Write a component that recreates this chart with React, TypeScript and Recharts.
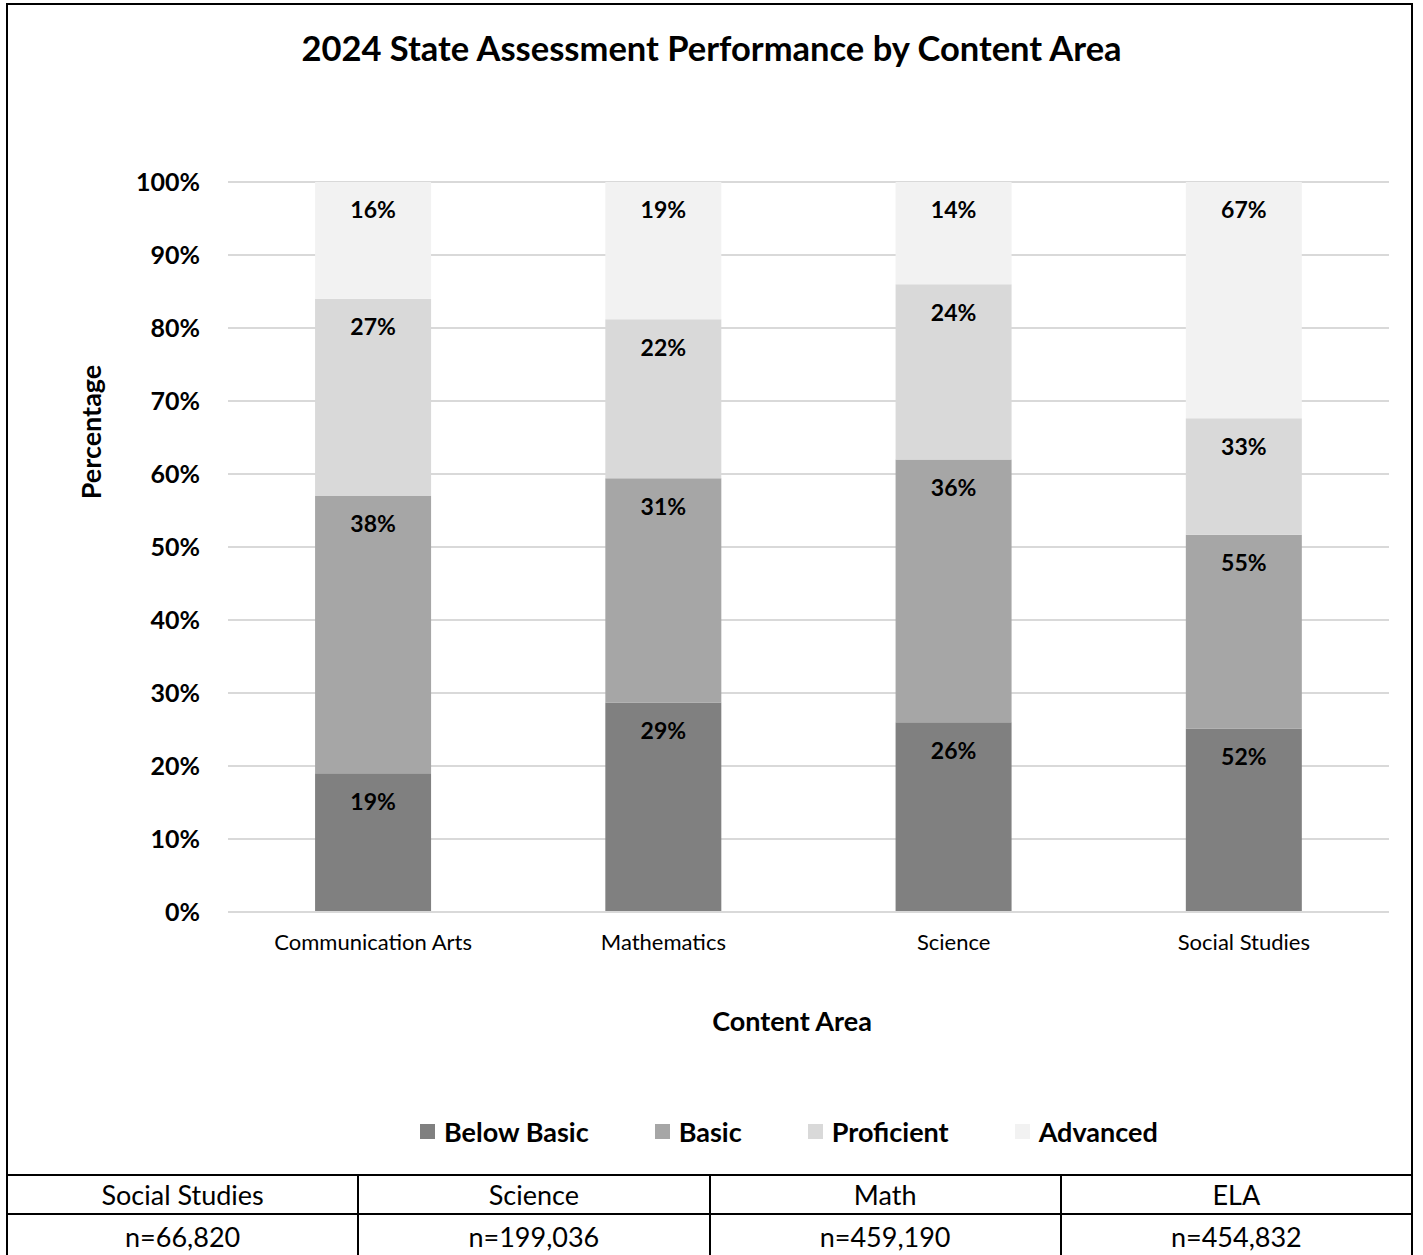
import React from 'react';
import { BarChart, Bar, XAxis, YAxis, CartesianGrid, Legend, LabelList, Label } from 'recharts';

const categories = ['Communication Arts', 'Mathematics', 'Science', 'Social Studies'];
const belowBasic = [19, 29, 26, 52];
const basic = [38, 31, 36, 55];
const proficient = [27, 22, 24, 33];
const advanced = [16, 19, 14, 67];
const yTicks = [0, 0.1, 0.2, 0.3, 0.4, 0.5, 0.6, 0.7, 0.8, 0.9, 1];

const tableHeaders = ['Social Studies', 'Science', 'Math', 'ELA'];
const tableCounts = ['n=66,820', 'n=199,036', 'n=459,190', 'n=454,832'];

const series = [
  { key: 'belowBasic', name: 'Below Basic', color: '#808080' },
  { key: 'basic', name: 'Basic', color: '#a6a6a6' },
  { key: 'proficient', name: 'Proficient', color: '#d9d9d9' },
  { key: 'advanced', name: 'Advanced', color: '#f2f2f2' },
];

const data = categories.map((category, i) => ({
  category,
  belowBasic: belowBasic[i],
  basic: basic[i],
  proficient: proficient[i],
  advanced: advanced[i],
}));

const FONT = 'Lato, "Open Sans", sans-serif';

const renderLegend = () => (
  <div style={{ display: 'flex', paddingLeft: 420, gap: 66, fontFamily: FONT, fontWeight: 700, fontSize: 27, color: '#000' }}>
    {series.map((s) => (
      <div key={s.key} style={{ display: 'flex', alignItems: 'center' }}>
        <span style={{ display: 'inline-block', width: 15, height: 15, background: s.color, marginRight: 9 }} />
        {s.name}
      </div>
    ))}
  </div>
);

const cell: React.CSSProperties = {
  border: '2px solid #000',
  height: 37,
  padding: 0,
  textAlign: 'center',
  fontSize: 27,
  fontFamily: FONT,
  color: '#000',
};

export default function App() {
  return (
    <div style={{ position: 'relative', width: 1423, height: 1255, background: '#fff', overflow: 'hidden', fontFamily: FONT }}>
      <style>{'body{margin:0}'}</style>
      <div
        style={{
          position: 'absolute', left: 6, top: 3, width: 1407, height: 1173,
          border: '2px solid #000', boxSizing: 'border-box',
        }}
      />
      <div
        style={{
          position: 'absolute', left: 0, top: 28, width: 1423, textAlign: 'center',
          fontSize: 34.5, fontWeight: 700, color: '#000', lineHeight: '40px',
        }}
      >
        2024 State Assessment Performance by Content Area
      </div>
      <div style={{ position: 'absolute', left: 0, top: 0 }}>
        <BarChart
          width={1423}
          height={1175}
          data={data}
          stackOffset="expand"
          barCategoryGap="30%"
          margin={{ top: 182, right: 34, left: 128, bottom: 233 }}
        >
          <CartesianGrid vertical={false} stroke="#d9d9d9" strokeWidth={2} />
          <XAxis
            dataKey="category"
            axisLine={{ stroke: '#d9d9d9', strokeWidth: 2 }}
            tickLine={false}
            tickMargin={16}
            height={30}
            tick={{ fill: '#000', fontSize: 22, fontFamily: FONT }}
          >
            <Label
              content={() => (
                <text x={792} y={1031} textAnchor="middle" fontFamily={FONT} fontWeight={700} fontSize={27} fill="#000">
                  Content Area
                </text>
              )}
            />
          </XAxis>
          <YAxis
            width={100}
            domain={[0, 1]}
            ticks={yTicks}
            tickFormatter={(v: number) => `${Math.round(v * 100)}%`}
            axisLine={false}
            tickLine={false}
            tickMargin={22}
            tick={{ fill: '#000', fontSize: 25, fontWeight: 700, fontFamily: FONT }}
          >
            <Label
              content={() => (
                <text
                  x={101}
                  y={432}
                  transform="rotate(-90 101 432)"
                  textAnchor="middle"
                  fontFamily={FONT}
                  fontWeight={700}
                  fontSize={27}
                  fill="#000"
                >
                  Percentage
                </text>
              )}
            />
          </YAxis>
          {series.map((s) => (
            <Bar key={s.key} dataKey={s.key} name={s.name} stackId="a" fill={s.color} isAnimationActive={false}>
              <LabelList
                dataKey={s.key}
                position="insideTop"
                offset={20}
                formatter={(v: number) => `${v}%`}
                fill="#000"
                fontSize={23}
                fontWeight={700}
                fontFamily={FONT}
              />
            </Bar>
          ))}
          <Legend
            layout="horizontal"
            verticalAlign="middle"
            align="center"
            content={renderLegend}
            wrapperStyle={{ top: 1115, left: 0, width: 1423 }}
          />
        </BarChart>
      </div>
      <table
        style={{
          position: 'absolute', left: 6, top: 1174, width: 1407,
          borderCollapse: 'collapse', tableLayout: 'fixed',
        }}
      >
        <tbody>
          <tr>
            {tableHeaders.map((h) => (
              <td key={h} style={cell}>{h}</td>
            ))}
          </tr>
          <tr>
            {tableCounts.map((c) => (
              <td key={c} style={{ ...cell, height: 42 }}>{c}</td>
            ))}
          </tr>
        </tbody>
      </table>
    </div>
  );
}
